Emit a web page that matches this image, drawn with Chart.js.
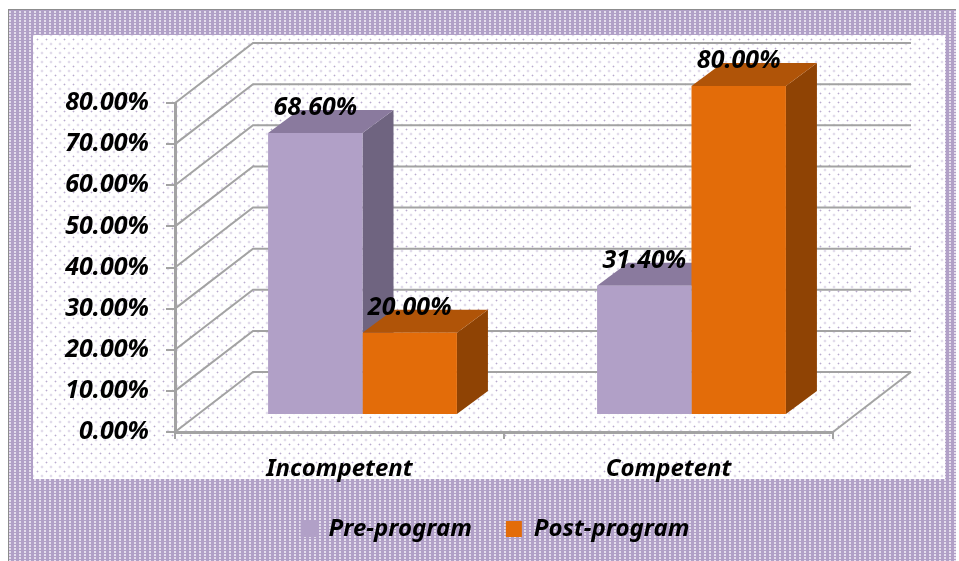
<!DOCTYPE html>
<html>
<head>
<meta charset="utf-8">
<script src="https://cdn.jsdelivr.net/npm/chart.js@4"></script>
<style>
    html, body { margin: 0; padding: 0; background: #fff; }
    #frame {
        position: absolute; left: 8px; top: 9px; width: 948px; height: 552px;
        box-sizing: border-box; border: 1px solid #8c8c8c; border-bottom: 0; border-right: 0;
        background-color: #b1a0c7;
        background-image:
            linear-gradient(#b1a0c7 1px, transparent 1px),
            linear-gradient(90deg, #e4dded 2px, transparent 2px);
        background-size: 3px 3px, 5px 5px;
    }
    #inner {
        position: absolute; left: 33px; top: 35px; width: 912px; height: 444px;
        background-color: #fff;
        background-image:
            radial-gradient(circle, #b9abce 0.8px, transparent 1.1px),
            radial-gradient(circle, #b9abce 0.8px, transparent 1.1px);
        background-size: 9px 9px;
        background-position: 0 0, 4.5px 4.5px;
    }
    #wrap { position: absolute; left: 0; top: 0; width: 959px; height: 561px; }
</style>
</head>
<body>
<div id="frame"></div>
<div id="inner"></div>
<div id="wrap"><canvas id="chart" width="959" height="561"></canvas></div>
<script>
const categories = ['Incompetent', 'Competent'];
const preProgram = [68.6, 31.4];
const postProgram = [20, 80];
const seriesNames = ['Pre-program', 'Post-program'];

const FONT = '"Noto Sans", sans-serif';
const GRID = '#a3a3a3';
const front = ['#b1a0c7', '#e36c09'];
const topFace = ['#8a7a9e', '#b05408'];
const sideFace = ['#6f6480', '#8f4304'];

// depth of the floor and of the bars, the library has no 3d so it is sheared by hand
const wall = { dx: 78, dy: -60 };
const barShift = { dx: 23, dy: -17 };
const barDepth = { dx: 31, dy: -23 };

function poly(ctx, pts, fill) {
    ctx.beginPath();
    pts.forEach((p, i) => i ? ctx.lineTo(p[0], p[1]) : ctx.moveTo(p[0], p[1]));
    ctx.closePath();
    ctx.fillStyle = fill;
    ctx.fill();
}

const box3d = {
    id: 'box3d',
    beforeDatasetsDraw(chart) {
        const { ctx, chartArea: a, scales: { y } } = chart;
        ctx.save();
        ctx.strokeStyle = GRID;
        ctx.lineWidth = 2;
        y.ticks.forEach(t => {
            const py = y.getPixelForValue(t.value);
            ctx.beginPath();
            ctx.moveTo(a.left, py);
            ctx.lineTo(a.left + wall.dx, py + wall.dy);
            ctx.lineTo(a.right + wall.dx, py + wall.dy);
            ctx.stroke();
        });
        const py0 = y.getPixelForValue(0);
        ctx.beginPath();
        ctx.moveTo(a.right + wall.dx, py0 + wall.dy);
        ctx.lineTo(a.right, py0);
        ctx.stroke();
        ctx.restore();

        ctx.save();
        ctx.translate(barShift.dx, barShift.dy);
        chart.data.datasets.forEach((ds, i) => {
            chart.getDatasetMeta(i).data.forEach(bar => {
                const l = bar.x - bar.width / 2, r = bar.x + bar.width / 2;
                const d = barDepth;
                poly(ctx, [[r, bar.y], [r + d.dx, bar.y + d.dy], [r + d.dx, bar.base + d.dy], [r, bar.base]], sideFace[i]);
                poly(ctx, [[l, bar.y], [l + d.dx, bar.y + d.dy], [r + d.dx, bar.y + d.dy], [r, bar.y]], topFace[i]);
            });
        });
    },
    afterDatasetsDraw(chart) {
        const { ctx } = chart;
        ctx.textAlign = 'center';
        ctx.textBaseline = 'middle';
        ctx.fillStyle = '#000';
        ctx.font = 'italic bold 25px ' + FONT;
        chart.data.datasets.forEach((ds, i) => {
            chart.getDatasetMeta(i).data.forEach((bar, j) => {
                ctx.fillText(ds.data[j].toFixed(2) + '%', bar.x, bar.y - 25);
            });
        });
        ctx.restore();
    },
    afterLayout(chart) {
        // legend sits in the band under the inner panel
        const lg = chart.legend;
        lg.left += 51; lg.right += 51;
        lg.top = 483; lg.bottom = 483 + lg.height;
    }
};

new Chart(document.getElementById('chart'), {
    type: 'bar',
    data: {
        labels: categories,
        datasets: [
            { label: seriesNames[0], data: preProgram, backgroundColor: front[0], clip: false },
            { label: seriesNames[1], data: postProgram, backgroundColor: front[1], clip: false }
        ]
    },
    options: {
        responsive: false,
        animation: false,
        categoryPercentage: 0.574,
        barPercentage: 1,
        layout: { padding: { left: 55, right: 126, top: 103, bottom: 11 } },
        scales: {
            x: {
                afterFit(s) { s.height = 50; },
                grid: { drawOnChartArea: false, tickLength: 7, color: GRID, lineWidth: 2 },
                border: { color: GRID, width: 3 },
                ticks: { color: '#000', padding: 16, font: { family: FONT, size: 24, style: 'italic', weight: 'bold' } }
            },
            y: {
                min: 0, max: 80,
                afterFit(s) { s.width = 120; },
                grid: { drawOnChartArea: false, tickLength: 9, color: GRID, lineWidth: 2 },
                border: { color: GRID, width: 3 },
                ticks: {
                    stepSize: 10, color: '#000', padding: 17,
                    font: { family: FONT, size: 25, style: 'italic', weight: 'bold' },
                    callback: v => v.toFixed(2) + '%'
                }
            }
        },
        plugins: {
            tooltip: { enabled: false },
            legend: {
                position: 'bottom',
                labels: {
                    color: '#000', boxWidth: 16, boxHeight: 16, padding: 34,
                    font: { family: FONT, size: 24, style: 'italic', weight: 'bold' }
                }
            }
        }
    },
    plugins: [box3d]
});
</script>
</body>
</html>
